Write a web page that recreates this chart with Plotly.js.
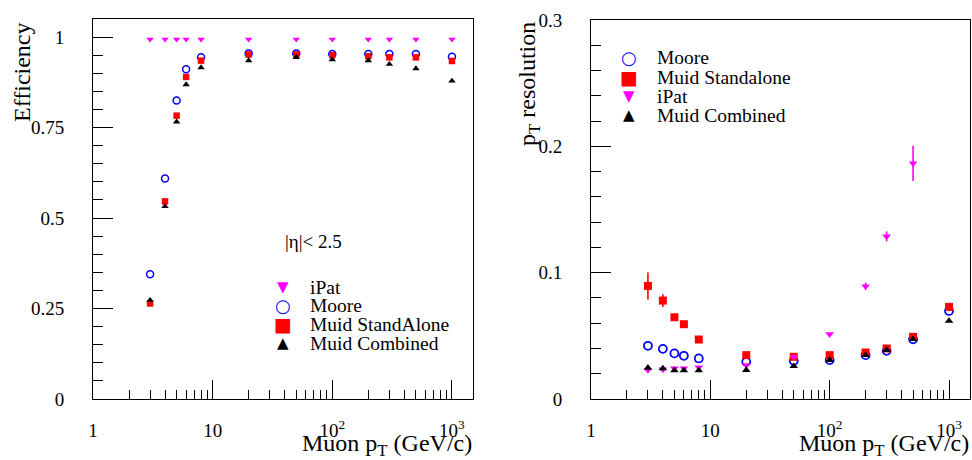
<!DOCTYPE html>
<html><head><meta charset="utf-8">
<script src="https://cdn.plot.ly/plotly-3.0.1.min.js"></script>
<style>html,body{margin:0;padding:0;background:#fff}#chart{width:972px;height:460px}</style>
</head><body><div id="chart"></div>
<script>
// ---- data ----
const pt = [3, 4, 5, 6, 8, 20, 50, 100, 200, 300, 500, 1000];
const effIPat = [0.994, 0.994, 0.994, 0.994, 0.994, 0.994, 0.994, 0.994, 0.994, 0.994, 0.994, 0.994];
const effMoore = [0.345, 0.609, 0.825, 0.911, 0.944, 0.955, 0.955, 0.953, 0.953, 0.953, 0.953, 0.946];
const effMuidSA = [0.264, 0.546, 0.783, 0.890, 0.935, 0.952, 0.952, 0.950, 0.947, 0.944, 0.944, 0.934];
const effMuidCB = [0.273, 0.532, 0.766, 0.869, 0.916, 0.935, 0.944, 0.938, 0.935, 0.925, 0.913, 0.879];

const ptIPatRes = [3, 4, 5, 6, 8, 20, 50, 100, 200, 300, 500];
const resMoore = [0.0421, 0.0397, 0.0361, 0.0342, 0.0321, 0.0294, 0.0302, 0.0308, 0.0347, 0.0381, 0.0473, 0.0697];
const resMuidSA = [0.0895, 0.0779, 0.0647, 0.0592, 0.0471, 0.0347, 0.0334, 0.0347, 0.0368, 0.0400, 0.0492, 0.0729];
const resMuidSAErr = [0.0107, 0.0050, 0, 0, 0, 0, 0, 0, 0, 0, 0, 0];
const resIPat = [0.0229, 0.0234, 0.0242, 0.0242, 0.0250, 0.0268, 0.0334, 0.0513, 0.0892, 0.1287, 0.1865];
const resIPatErr = [0, 0, 0, 0, 0, 0, 0, 0.001, 0.003, 0.004, 0.014];
const resMuidCB = [0.0247, 0.0242, 0.0226, 0.0226, 0.0226, 0.0229, 0.0260, 0.0308, 0.0347, 0.0387, 0.0473, 0.0618];

const xTickVals = [1, 10, 100, 1000];
const xTickText = ['1', '10', '10<sup>2</sup>', '10<sup>3</sup>'];
const xMinorVals = [2,3,4,5,6,7,8,9,20,30,40,50,60,70,80,90,200,300,400,500,600,700,800,900];
const effTickVals = [0, 0.25, 0.5, 0.75, 1];
const effTickText = ['0', '0.25', '0.5', '0.75', '1'];
const resTickVals = [0, 0.1, 0.2, 0.3];
const resTickText = ['0', '0.1', '0.2', '0.3'];

const leftLegendOrder = ['iPat', 'Moore', 'Muid StandAlone', 'Muid Combined'];
const rightLegendOrder = ['Moore', 'Muid Standalone', 'iPat', 'Muid Combined'];

// ---- styles ----
const C = {moore: '#0000ff', sa: '#ff0000', ipat: '#ff00ff', cb: '#000000'};
const glyph = {moore: '○', sa: '■', ipat: '▼', cb: '▲'};
const glyphSize = {moore: 18, sa: 19, ipat: 15, cb: 15};
const glyphWeight = {moore: 'bold', sa: 'normal', ipat: 'normal', cb: 'normal'};
const serif = 'Liberation Serif, Times New Roman, serif';

function tr(name, key, x, y, xa, ya, sym, size, err, lw) {
  const t = {
    type: 'scatter', mode: 'markers', name: name, x: x, y: y, xaxis: xa, yaxis: ya,
    showlegend: false, cliponaxis: true,
    marker: {symbol: sym, size: size, color: C[key], line: {width: sym === 'circle-open' ? lw : 0, color: C[key]}},
    _key: key
  };
  if (err) t.error_y = {type: 'data', array: err, visible: true, color: C[key], thickness: 1.6, width: 0};
  return t;
}

const traces = [
  tr('Moore', 'moore', pt, effMoore, 'x', 'y', 'circle-open', 7, null, 1.5),
  tr('Muid StandAlone', 'sa', pt, effMuidSA, 'x', 'y', 'square', 6.5),
  tr('Muid Combined', 'cb', pt, effMuidCB, 'x', 'y', 'triangle-up', 6.5),
  tr('iPat', 'ipat', pt, effIPat, 'x', 'y', 'triangle-down', 6.5),
  tr('Moore', 'moore', pt, resMoore, 'x2', 'y2', 'circle-open', 8, null, 1.8),
  tr('Muid Standalone', 'sa', pt, resMuidSA, 'x2', 'y2', 'square', 8, resMuidSAErr),
  tr('iPat', 'ipat', ptIPatRes, resIPat, 'x2', 'y2', 'triangle-down', 7.5, resIPatErr),
  tr('Muid Combined', 'cb', pt, resMuidCB, 'x2', 'y2', 'triangle-up', 7.5)
];

function xAxis(domain, anchor) {
  return {
    type: 'log', range: [0, 3.176], domain: domain, anchor: anchor,
    showline: true, mirror: true, linecolor: '#000', linewidth: 1,
    showgrid: false, zeroline: false,
    ticks: 'inside', ticklen: 19, tickwidth: 1, tickcolor: '#000',
    tickmode: 'array', tickvals: xTickVals, ticktext: xTickText,
    ticklabelstandoff: 14,
    minor: {tickmode: 'array', tickvals: xMinorVals, ticks: 'inside', ticklen: 9, tickwidth: 1, tickcolor: '#000', showgrid: false},
    tickfont: {family: serif, size: 19, color: '#000'}
  };
}
function yAxis(domain, anchor, range, vals, text, minorStep) {
  return {
    range: range, domain: domain, anchor: anchor,
    showline: true, mirror: true, linecolor: '#000', linewidth: 1,
    showgrid: false, zeroline: false,
    ticks: 'inside', ticklen: 20, tickwidth: 1, tickcolor: '#000',
    tickmode: 'array', tickvals: vals, ticktext: text,
    ticklabelstandoff: 24,
    minor: {tickmode: 'linear', tick0: 0, dtick: minorStep, ticks: 'inside', ticklen: 10, tickwidth: 1, tickcolor: '#000', showgrid: false},
    tickfont: {family: serif, size: 19, color: '#000'}
  };
}

const W = 972, H = 460;
const px = v => v / W, py = v => 1 - v / H;
const ann = [];
function txt(text, x, y, opts) {
  ann.push(Object.assign({text: text, xref: 'paper', yref: 'paper', x: px(x), y: py(y), showarrow: false,
    xanchor: 'center', yanchor: 'middle', font: {family: serif, size: 19, color: '#000'}}, opts || {}));
}
const titleFont = {family: serif, size: 24, color: '#000'};
// axis titles
txt('Efficiency', 22, 20, {textangle: -90, yanchor: 'top', font: titleFont});
txt('Muon p<sub>T</sub> (GeV/c)', 474, 462, {xanchor: 'right', yanchor: 'bottom', font: titleFont});
txt('p<sub>T</sub> resolution', 529, 20, {textangle: -90, yanchor: 'top', font: titleFont});
txt('Muon p<sub>T</sub> (GeV/c)', 971, 462, {xanchor: 'right', yanchor: 'bottom', font: titleFont});
txt('|η|< 2.5', 313, 242, {});

// legends built from trace names/colors
function legend(order, axis, gx, tx, rows) {
  order.forEach((name, i) => {
    const t = traces.find(d => d.name === name && d.xaxis === axis);
    const k = t._key;
    txt(glyph[k], gx, rows[i], {font: {family: 'DejaVu Sans', size: glyphSize[k], weight: glyphWeight[k], color: C[k]}});
    txt(name, tx, rows[i], {xanchor: 'left', font: {family: serif, size: 19.5, color: '#000'}});
  });
}
legend(leftLegendOrder, 'x', 283, 308, [287, 305, 324, 343]);
legend(rightLegendOrder, 'x2', 629, 655, [58, 77, 96, 115]);

const layout = {
  width: W, height: H, margin: {l: 0, r: 0, t: 0, b: 0},
  paper_bgcolor: '#fff', plot_bgcolor: '#fff', showlegend: false,
  xaxis: xAxis([px(93), px(473)], 'y'),
  yaxis: yAxis([py(399), py(19)], 'x', [0, 1.05], effTickVals, effTickText, 0.05),
  xaxis2: xAxis([px(591), px(970)], 'y2'),
  yaxis2: yAxis([py(399), py(20)], 'x2', [0, 0.3], resTickVals, resTickText, 0.02),
  annotations: ann
};
Plotly.newPlot('chart', traces.map(t => { const c = Object.assign({}, t); delete c._key; return c; }), layout, {staticPlot: true});
</script></body></html>
